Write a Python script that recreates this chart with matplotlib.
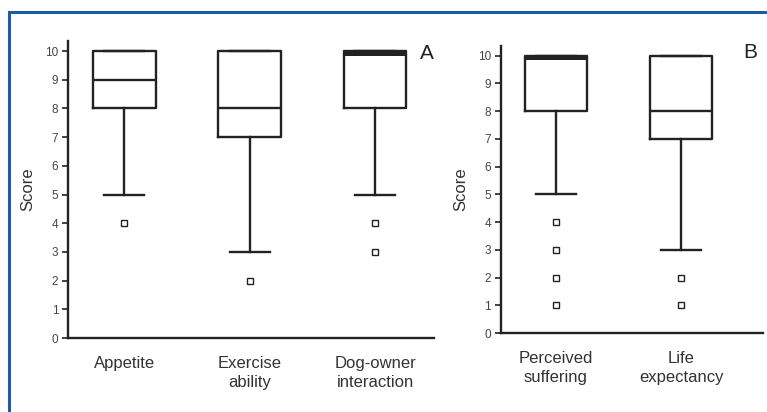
import matplotlib
matplotlib.use("Agg")
import matplotlib.pyplot as plt
from matplotlib.patches import Rectangle
from matplotlib.transforms import ScaledTranslation

plt.rcParams['font.family'] = ['Liberation Sans', 'DejaVu Sans']

# panel A: quality-of-life items
labels_a = ["Appetite", "Exercise\nability", "Dog-owner\ninteraction"]
whislo_a = [5, 3, 5]
q1_a = [8, 7, 8]
med_a = [9, 8, 10]
q3_a = [10, 10, 10]
whishi_a = [10, 10, 10]
fliers_a = [[4], [2], [4, 3]]

# panel B: overall assessment
labels_b = ["Perceived\nsuffering", "Life\nexpectancy"]
whislo_b = [5, 3]
q1_b = [8, 7]
med_b = [10, 8]
q3_b = [10, 10]
whishi_b = [10, 10]
fliers_b = [[4, 3, 2, 1], [2, 1]]

ink = "#222222"


def make_stats(lo, q1, med, q3, hi, fl):
    return [dict(whislo=a, q1=b, med=c, q3=d, whishi=e, fliers=f)
            for a, b, c, d, e, f in zip(lo, q1, med, q3, hi, fl)]


def draw_panel(ax, stats, labels, xlim, letter, letter_xy):
    pos = list(range(1, len(stats) + 1))
    art = ax.bxp(stats, positions=pos, widths=0.5, capwidths=0.32,
                 boxprops=dict(color=ink, linewidth=1.7),
                 whiskerprops=dict(color=ink, linewidth=1.7),
                 capprops=dict(color=ink, linewidth=1.7),
                 medianprops=dict(color=ink, linewidth=1.7),
                 flierprops=dict(marker='s', markersize=4.5, markerfacecolor='white',
                                 markeredgecolor=ink, markeredgewidth=1.0))
    # median sitting on the upper quartile: heavy bar hanging just inside the box
    for s, m in zip(stats, art['medians']):
        if s['med'] == s['q3']:
            lw = 3.6
            m.set_linewidth(lw)
            m.set_solid_capstyle('butt')
            m.set_transform(ax.transData +
                            ScaledTranslation(0, -(lw / 2 - 0.6) / 72, fig.dpi_scale_trans))
    ax.set_xlim(*xlim)
    ax.set_ylim(0, 10.35)
    ax.set_yticks(range(0, 11))
    ax.set_xticks(pos)
    ax.set_xticklabels(labels, fontsize=12, color="#333333", linespacing=1.3)
    ax.tick_params(axis='x', length=0, pad=13)
    ax.tick_params(axis='y', length=4, width=1.2, color=ink, labelsize=8.5,
                   labelcolor="#444444", pad=3)
    for side in ("top", "right"):
        ax.spines[side].set_visible(False)
    for side in ("left", "bottom"):
        ax.spines[side].set_linewidth(1.7)
        ax.spines[side].set_color(ink)
    ax.set_ylabel("Score", fontsize=12, color="#333333", labelpad=7)
    ax.text(*letter_xy, letter, fontsize=15, color=ink, ha='center', va='center')


fig = plt.figure(figsize=(7.67, 4.12), dpi=100)

ax_a = fig.add_axes([0.0887, 0.1796, 0.4772, 0.7209])
draw_panel(ax_a, make_stats(whislo_a, q1_a, med_a, q3_a, whishi_a, fliers_a),
           labels_a, (0.55, 3.47), "A", (3.41, 9.9))

ax_b = fig.add_axes([0.653, 0.1917, 0.342, 0.6966])
draw_panel(ax_b, make_stats(whislo_b, q1_b, med_b, q3_b, whishi_b, fliers_b),
           labels_b, (0.56, 2.656), "B", (2.55, 10.1))

# blue frame along the top and left edges
fig.add_artist(Rectangle((9 / 767, -0.1), 1.2, (1 - 12 / 412) + 0.1,
                         transform=fig.transFigure, fill=False,
                         edgecolor="#1c5ba6", linewidth=2.2))

fig.savefig("out.png", dpi=100)
